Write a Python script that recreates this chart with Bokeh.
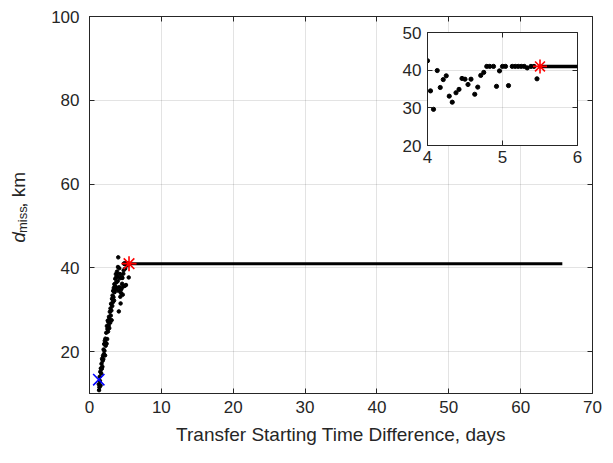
import math
from bokeh.plotting import figure
from bokeh.models import Range1d, FixedTicker, LinearAxis, CustomJSTickFormatter, GridBox
from bokeh.core.properties import value
from bokeh.embed import file_html
from bokeh.resources import INLINE

# ---------------- data ----------------
x_early = [1.29, 1.33, 1.38, 1.42, 1.46, 1.50, 1.54, 1.58, 1.63, 1.67,
           1.71, 1.75, 1.79, 1.83, 1.88, 1.92, 1.96, 2.00, 2.04, 2.08,
           2.13, 2.17, 2.21, 2.25, 2.29, 2.33, 2.38, 2.42, 2.46, 2.50,
           2.54, 2.58, 2.63, 2.67, 2.71, 2.75, 2.79, 2.83, 2.88, 2.92,
           2.96, 3.00, 3.04, 3.08, 3.13, 3.17, 3.21, 3.25, 3.29, 3.33,
           3.38, 3.42, 3.46, 3.50, 3.54, 3.58, 3.63, 3.67, 3.71, 3.75,
           3.79, 3.83, 3.88, 3.92, 3.96]
y_early = [12.2, 10.8, 11.5, 14.0, 13.0, 15.2, 11.9, 16.0, 14.8, 17.1,
           15.9, 18.3, 16.4, 17.8, 19.0, 18.2, 20.5, 19.4, 21.8, 20.2,
           22.6, 19.1, 23.1, 21.4, 22.0, 24.5, 21.9, 26.1, 23.0, 25.4,
           27.4, 24.8, 27.0, 26.2, 28.3, 25.6, 27.8, 29.5, 26.9, 30.3,
           28.6, 31.4, 29.8, 27.5, 32.6, 30.9, 33.4, 31.8, 34.5, 33.0,
           35.2, 32.2, 36.1, 34.2, 35.6, 37.4, 34.8, 38.5, 36.5, 37.8,
           35.3, 39.1, 38.0, 36.8, 40.2]
x_late = [4.00, 4.04, 4.08, 4.13, 4.17, 4.21, 4.25, 4.29, 4.33, 4.38,
          4.42, 4.46, 4.50, 4.54, 4.58, 4.63, 4.67, 4.71, 4.75, 4.79,
          4.83, 4.88, 4.92, 4.96, 5.00, 5.04, 5.08, 5.13, 5.17, 5.21,
          5.25, 5.29, 5.33, 5.38, 5.42, 5.46]
y_late = [42.5, 34.5, 29.6, 39.9, 35.4, 37.5, 38.5, 33.1, 31.5, 34.0,
          34.9, 37.8, 37.6, 36.2, 37.6, 33.6, 35.5, 38.6, 39.4, 41.0,
          41.0, 41.0, 35.7, 39.8, 41.0, 41.0, 35.9, 41.0, 41.0, 41.0,
          41.0, 41.0, 40.6, 41.0, 41.0, 37.7]
plateau_x = [5.5, 65.8]
plateau_y = [41.0, 41.0]
best_x = [5.5]
best_y = [41.0]
min_x = [1.29]
min_y = [13.3]

main_xticks = [0, 10, 20, 30, 40, 50, 60, 70]
main_yticks = [20, 40, 60, 80, 100]
inset_xticks = [4, 5, 6]
inset_yticks = [20, 30, 40, 50]

x_label = "Transfer Starting Time Difference, days"
y_label_parts = ["d", "miss", ", km"]

FONT = "Liberation Sans"
INK = "#262626"
LAB_W = 40  # width of the strip that holds the y label
SHIFT_X = -4
SHIFT_Y = 29


def style(fig, xt, yt, tick_size):
    fig.xaxis.ticker = FixedTicker(ticks=xt)
    fig.yaxis.ticker = FixedTicker(ticks=yt)
    fig.xgrid.ticker = FixedTicker(ticks=xt)
    fig.ygrid.ticker = FixedTicker(ticks=yt)
    for g in (fig.xgrid, fig.ygrid):
        g.grid_line_color = INK
        g.grid_line_alpha = 0.13
    for ax in (fig.xaxis, fig.yaxis):
        ax.major_tick_in = 5
        ax.major_tick_out = 0
        ax.minor_tick_in = 0
        ax.minor_tick_out = 0
        ax.axis_line_color = INK
        ax.major_tick_line_color = INK
        ax.major_label_text_color = INK
        ax.major_label_text_font = FONT
        ax.major_label_text_font_size = tick_size
    fig.outline_line_color = INK
    fig.outline_line_alpha = 1.0
    for loc, ticks in (("above", xt), ("right", yt)):
        ax = LinearAxis(ticker=FixedTicker(ticks=ticks),
                        formatter=CustomJSTickFormatter(code="return ''"),
                        major_tick_in=5, major_tick_out=0,
                        minor_tick_in=0, minor_tick_out=0,
                        axis_line_color=None, major_tick_line_color=INK,
                        major_label_text_font_size="1px",
                        major_label_standoff=0)
        fig.add_layout(ax, loc)


# ---------------- main figure ----------------
p = figure(width=613 - LAB_W, height=463, x_range=Range1d(0, 70), y_range=Range1d(10, 100),
           output_backend="svg", toolbar_location=None,
           min_border_left=89 - LAB_W, min_border_right=21, min_border_top=16, min_border_bottom=70)
style(p, main_xticks, main_yticks, "17px")
p.below[0].major_label_standoff = 7
p.left[0].major_label_standoff = 10
bx = p.below[0]
bx.axis_label = x_label
bx.axis_label_text_font = FONT
bx.axis_label_text_font_size = "19px"
bx.axis_label_text_font_style = "normal"
bx.axis_label_text_color = INK
bx.axis_label_standoff = 8

p.line(plateau_x, plateau_y, line_color="black", line_width=3)
p.scatter(x_early, y_early, size=3.5, color="black")
p.scatter(x_late, y_late, size=3.5, color="black")
p.scatter(best_x, best_y, marker="asterisk", size=15, line_color="red", line_width=1.6)
p.scatter(min_x, min_y, marker="x", size=16, line_color="blue", line_width=1.6)

# ---------------- y label strip (pixel coordinates) ----------------
ylab = figure(width=LAB_W, height=463, x_range=Range1d(0, LAB_W), y_range=Range1d(0, 463),
              x_axis_location=None, y_axis_location=None, min_border=0,
              outline_line_color=None, background_fill_color="white", border_fill_color="white",
              output_backend="svg", toolbar_location=None)
ylab.xgrid.visible = False
ylab.ygrid.visible = False
for txt, xp, yp, size, fstyle in ((y_label_parts[0], 22, 249, "19px", "italic"),
                                  (y_label_parts[1], 25.5, 237, "13px", "normal"),
                                  (y_label_parts[2], 22, 206, "19px", "normal")):
    ylab.text(x=[xp + SHIFT_X], y=[463 - (yp + SHIFT_Y)], text=[txt], angle=math.pi / 2,
              text_align="left", text_baseline="alphabetic",
              text_font=value(FONT), text_font_size=size, text_font_style=fstyle,
              text_color=INK)

# ---------------- inset figure ----------------
inset = figure(width=186, height=149, x_range=Range1d(4, 6), y_range=Range1d(20, 50),
               output_backend="svg", toolbar_location=None,
               min_border_left=28, min_border_right=8, min_border_top=8, min_border_bottom=28,
               background_fill_color="white", border_fill_alpha=0.0)
style(inset, inset_xticks, inset_yticks, "17px")
inset.below[0].major_label_standoff = 5
inset.left[0].major_label_standoff = 6

inset.line(plateau_x, plateau_y, line_color="black", line_width=3.5)
inset.scatter(x_early, y_early, size=4.2, color="black")
inset.scatter(x_late, y_late, size=4.2, color="black")
inset.scatter(best_x, best_y, marker="asterisk", size=14, line_color="red", line_width=1.6)

layout = GridBox(children=[(ylab, 0, 0, 3, 1), (p, 0, 1, 3, 3), (inset, 1, 2)],
                 rows=["24px", "149px", "290px"],
                 cols=[f"{LAB_W}px", f"{399 - LAB_W}px", "186px", "28px"])
open("out.html", "w").write(file_html(layout, INLINE))
